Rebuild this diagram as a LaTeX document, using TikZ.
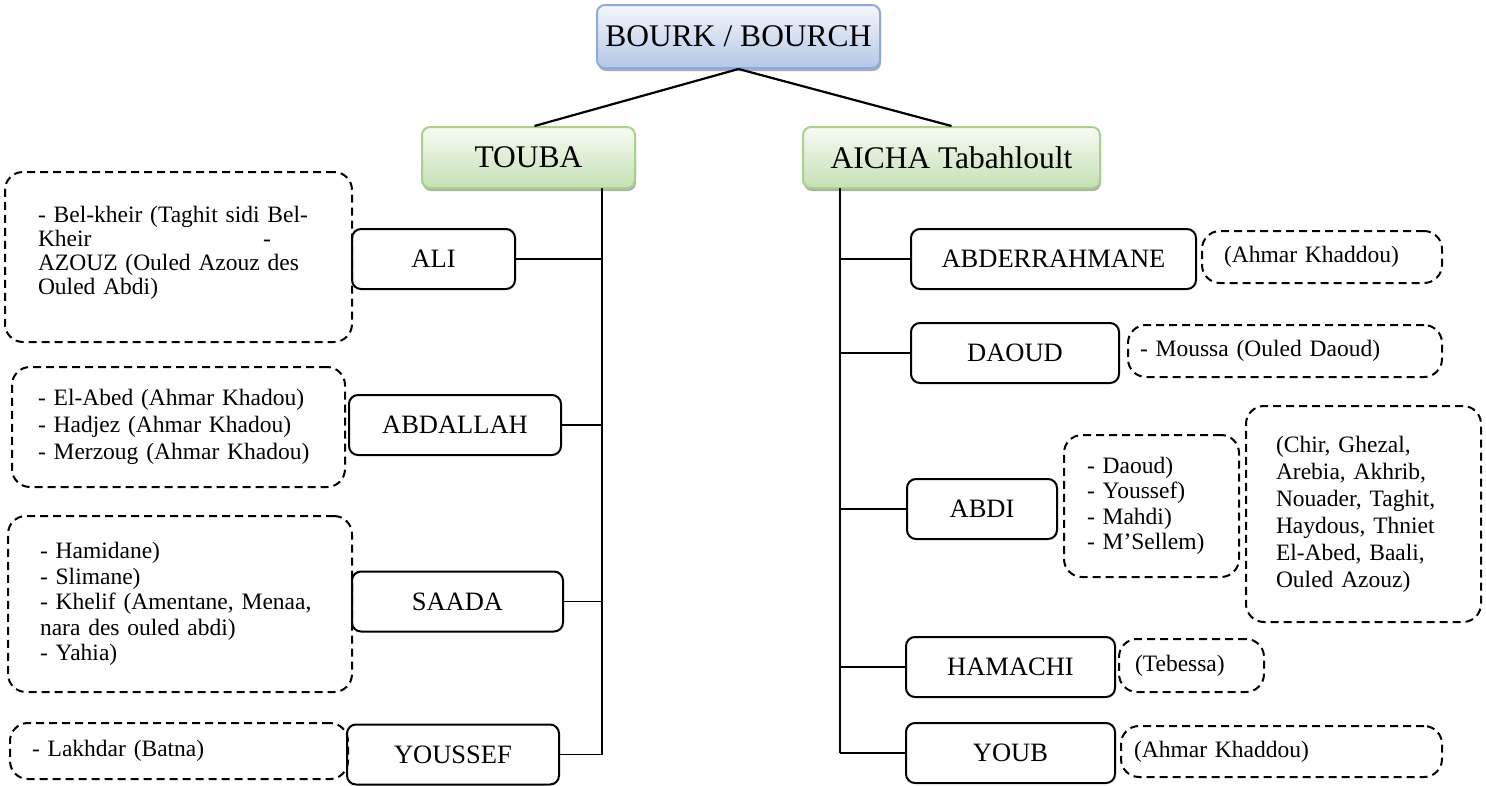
\documentclass[tikz,border=0pt]{standalone}
\usepackage{fontspec}
\setmainfont{Liberation Serif}
\usetikzlibrary{positioning,shadows}

\definecolor{rootedge}{HTML}{8EAADB}
\definecolor{roottop}{HTML}{F4F7FC}
\definecolor{rootbottom}{HTML}{B4C7E7}
\definecolor{wifeedge}{HTML}{A9D18E}
\definecolor{wifetop}{HTML}{F7FBF3}
\definecolor{wifebottom}{HTML}{C5E0B4}

\begin{document}
\begin{tikzpicture}[
  x=1pt, y=-1pt,
  tribe/.style={draw=rootedge, line width=2pt, rounded corners=8pt, top color=roottop, bottom color=rootbottom,
    drop shadow={shadow xshift=1pt, shadow yshift=-3pt, fill=black!45, opacity=.7},
    minimum width=283pt, minimum height=63pt, font=\fontsize{31.5}{36}\selectfont},
  wife/.style={draw=wifeedge, line width=2pt, rounded corners=8pt, top color=wifetop, bottom color=wifebottom,
    drop shadow={shadow xshift=1pt, shadow yshift=-3pt, fill=black!45, opacity=.7},
    minimum height=61pt, font=\fontsize{31.5}{36}\selectfont},
  son/.style={draw, line width=2pt, rounded corners=9pt, inner sep=0pt, minimum height=60pt, font=\fontsize{26.5}{30}\selectfont},
  clan/.style={draw, line width=2pt, dash pattern=on 8pt off 5pt, rounded corners=18pt, align=left, inner ysep=0pt,
    font=\fontsize{23.5}{27}\selectfont},
  relation/.style={line width=2.2pt},
  spine/.style={line width=2.2pt},
  tick/.style={line width=1.4pt}
]
  \useasboundingbox (0,0) rectangle (1486,785);

  \node[tribe] (bourk) at (738.5,36.5) {BOURK / BOURCH};
  \node[wife, minimum width=213pt] (touba) at (528.5,157.5) {TOUBA};
  \node[wife, minimum width=297pt] (aicha) at (951.5,157.5) {AICHA Tabahloult};

  % sons of TOUBA
  \node[son, minimum width=163pt] (ali) at (433.5,259) {ALI};
  \node[son, minimum width=212pt] (abdallah) at (455,425) {ABDALLAH};
  \node[son, minimum width=211pt] (saada) at (457.5,601.5) {SAADA};
  \node[son, minimum width=212pt] (youssef) at (453,754.5) {YOUSSEF};

  % sons of AICHA
  \node[son, minimum width=285pt] (abderrahmane) at (1053.5,259) {ABDERRAHMANE};
  \node[son, minimum width=208pt] (daoud) at (1015,353) {DAOUD};
  \node[son, minimum width=150pt] (abdi) at (982,509) {ABDI};
  \node[son, minimum width=209pt] (hamachi) at (1010.5,667) {HAMACHI};
  \node[son, minimum width=209pt] (youb) at (1010.5,753) {YOUB};

  % descendants, left side
  \node[clan, inner xsep=33pt, text width=281pt, minimum height=170pt, font=\fontsize{23.5}{24}\selectfont] (aliclan) at (178.5,257)
    {- Bel-kheir (Taghit sidi Bel-\\\makebox[225pt][l]{Kheir}-\\AZOUZ (Ouled Azouz des\\Ouled Abdi)\\[-10pt]\null};
  \node[clan, inner xsep=26pt, text width=281pt, minimum height=120pt] (abdallahclan) at (178.5,427)
    {- El-Abed (Ahmar Khadou)\\- Hadjez (Ahmar Khadou)\\- Merzoug (Ahmar Khadou)};
  \node[clan, inner xsep=32pt, text width=280pt, minimum height=176pt, font=\fontsize{23.5}{25.5}\selectfont] (saadaclan) at (180,604)
    {- Hamidane)\\- Slimane)\\- Khelif (Amentane, Menaa,\\nara des ouled abdi)\\- Yahia)};
  \node[clan, inner xsep=22pt, text width=294pt, minimum height=56pt] (youssefclan) at (179,751)
    {- Lakhdar (Batna)};

  % descendants, right side
  \node[clan, inner xsep=22pt, text width=196pt, minimum height=52pt, right=4pt of abderrahmane, yshift=2pt] (abderrahmaneclan)
    {(Ahmar Khaddou)};
  \node[clan, inner xsep=12pt, text width=290pt, minimum height=52pt, right=7pt of daoud, yshift=2pt] (daoudclan)
    {- Moussa (Ouled Daoud)};
  \node[clan, inner xsep=23pt, text width=129pt, minimum height=142pt, right=5pt of abdi, yshift=3pt, font=\fontsize{23.5}{25.5}\selectfont] (abdiclan)
    {- Daoud)\\- Youssef)\\- Mahdi)\\- M’Sellem)};
  \node[clan, inner xsep=30pt, text width=175pt, minimum height=216pt, right=5pt of abdiclan, yshift=-8pt] (abdiplaces)
    {(Chir, Ghezal,\\Arebia, Akhrib,\\Nouader, Taghit,\\Haydous, Thniet\\El-Abed, Baali,\\Ouled Azouz)};
  \node[clan, inner xsep=16pt, text width=113pt, minimum height=53pt, right=2pt of hamachi, yshift=1.5pt] (hamachiclan)
    {(Tebessa)};
  \node[clan, inner xsep=13pt, text width=295pt, minimum height=51pt, right=4pt of youb, yshift=1.5pt] (youbclan)
    {(Ahmar Khaddou)};

  % links
  \draw[relation] (bourk.south) -- ([xshift=6pt]touba.north);
  \draw[relation] (bourk.south) -- (aicha.north);

  \coordinate (toubaspine) at (602,188);
  \coordinate (aichaspine) at (840,188);
  \draw[spine] (toubaspine) -- (toubaspine |- youssef.east);
  \draw[tick] (ali.east) -- (ali.east -| toubaspine);
  \draw[tick] (abdallah.east) -- (abdallah.east -| toubaspine);
  \draw[tick] (saada.east) -- (saada.east -| toubaspine);
  \draw[tick] (youssef.east) -- (youssef.east -| toubaspine);

  \draw[spine] (aichaspine) -- (aichaspine |- youb.west);
  \draw[tick] (abderrahmane.west) -- (abderrahmane.west -| aichaspine);
  \draw[tick] (daoud.west) -- (daoud.west -| aichaspine);
  \draw[tick] (abdi.west) -- (abdi.west -| aichaspine);
  \draw[tick] (hamachi.west) -- (hamachi.west -| aichaspine);
  \draw[tick] (youb.west) -- (youb.west -| aichaspine);
\end{tikzpicture}
\end{document}
